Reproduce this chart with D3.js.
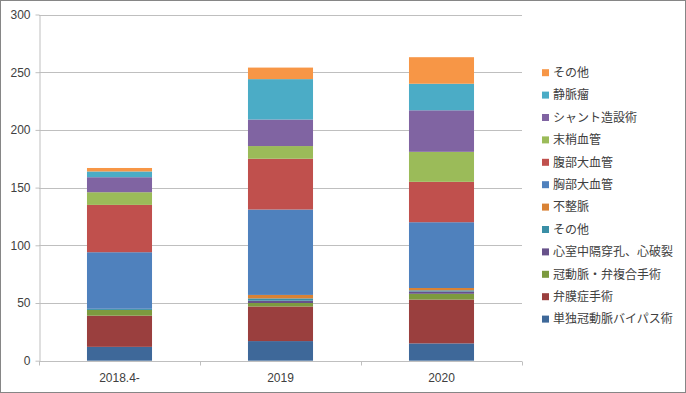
<!DOCTYPE html>
<html><head><meta charset="utf-8">
<script src="https://cdn.jsdelivr.net/npm/d3@7"></script>
<style>
html,body{margin:0;padding:0;background:#fff;}
text{font-family:"Liberation Sans","Noto Sans CJK JP",sans-serif;}
</style></head>
<body><svg id="c" width="686" height="393"></svg>
<script>
const categories = ["2018.4-", "2019", "2020"];
const seriesNames = ["単独冠動脈バイパス術","弁膜症手術","冠動脈・弁複合手術","心室中隔穿孔、心破裂","その他","不整脈","胸部大血管","腹部大血管","末梢血管","シャント造設術","静脈瘤","その他"];
const seriesColors = ["#3E6899","#9A3F3E","#7C9A3F","#67518A","#3A8FA6","#D98235","#4F81BD","#C0504D","#9BBB59","#8064A2","#4BACC6","#F79646"];
const cabg        = [12, 17, 15];
const valve       = [27, 30, 38];
const combined    = [5, 3, 5];
const vsd         = [0, 2, 2];
const otherCardiac= [1, 2, 1];
const arrhythmia  = [0, 3, 2];
const thoracic    = [49, 74, 57];
const abdominal   = [41, 44, 35];
const peripheral  = [11, 11, 26];
const shunt       = [13, 23, 36];
const varicose    = [5, 35, 23];
const otherVasc   = [3, 10, 23];
const yTicks = [0, 50, 100, 150, 200, 250, 300];

(function () {
const seriesValues = [cabg, valve, combined, vsd, otherCardiac, arrhythmia, thoracic, abdominal, peripheral, shunt, varicose, otherVasc];
const keys = seriesValues.map((_, i) => "s" + i);
const table = categories.map((c, j) => {
  const row = {cat: c};
  seriesValues.forEach((s, i) => row[keys[i]] = s[j]);
  return row;
});

const svg = d3.select("#c");
const W = 686, H = 393;
const mLeft = 39, mRight = 522, mTop = 14.5, mBottom = 360.7;

svg.append("rect").attr("x", 0.5).attr("y", 0.5).attr("width", W - 1).attr("height", H - 1)
  .attr("fill", "#fff").attr("stroke", "#868686").attr("stroke-width", 1);

const x = d3.scaleBand().domain(categories).range([mLeft, mRight]).paddingInner(0.596).paddingOuter(0.298);
const xb = d3.scaleBand().domain(categories).range([mLeft, mRight]);
const y = d3.scaleLinear().domain([0, 300]).range([mBottom, mTop]);

// gridlines
svg.append("g").selectAll("line").data(yTicks.filter(t => t > 0)).join("line")
  .attr("x1", mLeft).attr("x2", mRight)
  .attr("y1", d => Math.round(y(d)) + 0.5).attr("y2", d => Math.round(y(d)) + 0.5)
  .attr("stroke", "#BFBFBF").attr("stroke-width", 1);

// bars
const stack = d3.stack().keys(keys)(table);
svg.append("g").selectAll("g").data(stack).join("g")
  .attr("fill", (d, i) => seriesColors[i])
  .selectAll("rect").data(d => d).join("rect")
  .attr("x", d => x(d.data.cat))
  .attr("width", x.bandwidth())
  .attr("y", d => y(d[1]))
  .attr("height", d => Math.max(0, y(d[0]) - y(d[1])));

// y axis
const yAxis = d3.axisLeft(y).tickValues(yTicks).tickSize(4).tickPadding(5).tickSizeOuter(0);
const gy = svg.append("g").attr("transform", `translate(${mLeft + 0.5},0)`).call(yAxis);
gy.select(".domain").attr("stroke", "#BFBFBF");
gy.selectAll(".tick line").attr("stroke", "#BFBFBF");
gy.selectAll(".tick text").attr("fill", "#404040").style("font-size", "12px");

// x axis
const gx = svg.append("g").attr("transform", `translate(0,${Math.round(mBottom) + 0.5})`);
gx.append("line").attr("x1", mLeft).attr("x2", mRight).attr("stroke", "#BFBFBF");
const bounds = [mLeft].concat(categories.map(c => xb(c) + xb.bandwidth()));
gx.selectAll("line.t").data(bounds).join("line").attr("class", "t")
  .attr("x1", d => Math.round(d) + 0.5).attr("x2", d => Math.round(d) + 0.5)
  .attr("y1", 0).attr("y2", 4).attr("stroke", "#BFBFBF");
gx.selectAll("text").data(categories).join("text")
  .attr("x", d => xb(d) + xb.bandwidth() / 2).attr("y", 20)
  .attr("text-anchor", "middle").attr("fill", "#404040").style("font-size", "12px").text(d => d);

// legend (reverse order)
const legendOrder = d3.range(seriesNames.length).reverse();
const lg = svg.append("g");
legendOrder.forEach((si, k) => {
  const cy = 72.7 + k * 22.4;
  lg.append("rect").attr("x", 542).attr("y", cy - 3.5).attr("width", 7).attr("height", 7).attr("fill", seriesColors[si]);
  lg.append("text").attr("x", 553).attr("y", cy).attr("dy", "0.36em")
    .attr("fill", "#404040").style("font-size", "12px").text(seriesNames[si]);
});
})();
</script></body></html>
